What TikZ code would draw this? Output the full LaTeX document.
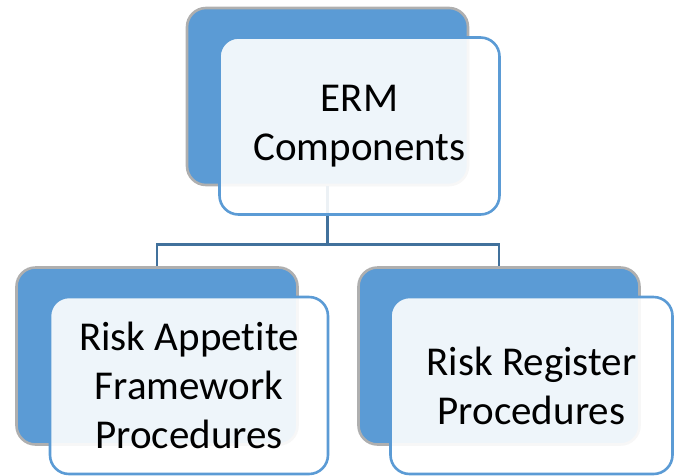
\documentclass[tikz,border=0pt]{standalone}
\usepackage{fontspec}
\setmainfont{Carlito}[Ligatures=NoCommon]
\definecolor{ermblue}{RGB}{91,155,213}
\definecolor{ermline}{RGB}{65,113,156}
\definecolor{ermgray}{RGB}{175,175,175}
\tikzset{
    backbox/.style={draw=ermgray, line width=2.6pt, fill=ermblue, rounded corners=19pt,
        minimum width=281pt, minimum height=177pt, inner sep=0pt},
    frontbox/.style={draw=ermblue, line width=2.6pt, fill=white, fill opacity=0.9, text opacity=1,
        rounded corners=19pt, minimum width=280pt, minimum height=177pt, inner sep=0pt,
        align=center, font=\fontsize{41}{49}\selectfont},
    conn/.style={draw=ermline, line width=2.6pt}
}
\begin{document}
\begin{tikzpicture}[x=1pt, y=-1pt]
                    \useasboundingbox (0,0) rectangle (681,475);
                    % Back boxes
                    \node[backbox] (ermback) at (327.5,96.5) {};
                    \node[backbox] (appback) at (157,356) {};
                    \node[backbox] (regback) at (499,356) {};
                    % Connectors
                    \draw[conn] (ermback.south) -- ++(0,58) coordinate (split)
                        (appback.north) |- (split) -| (regback.north);
                    % Front boxes
                    \node[frontbox] (erm) at (359.5,126) {ERM\\Components};
                    \node[frontbox, minimum width=278pt] (app) at (189,385.5) {Risk Appetite\\Framework\\Procedures};
                    \node[frontbox, minimum width=282pt] (reg) at (531.5,385.5) {Risk Register\\Procedures};
\end{tikzpicture}
\end{document}
